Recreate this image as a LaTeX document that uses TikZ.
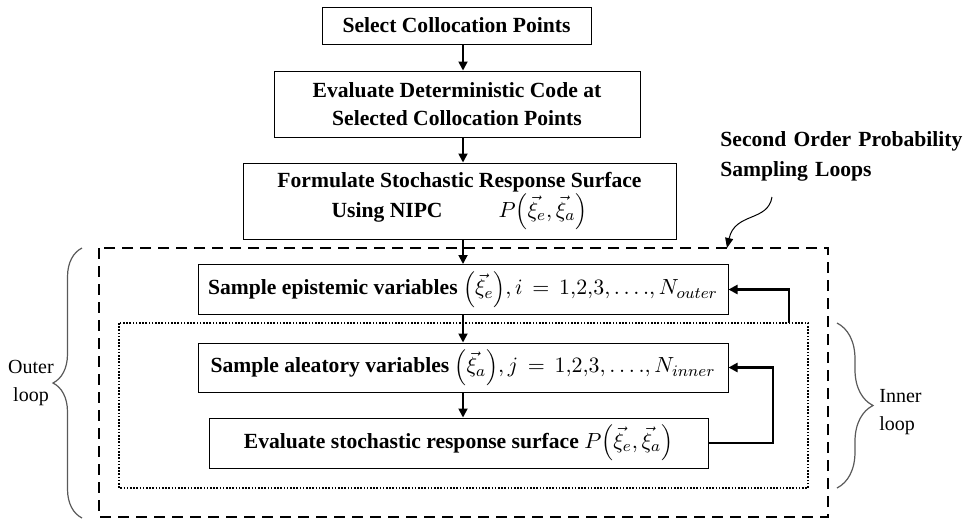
\documentclass[tikz,border=0pt]{standalone}
\usepackage{fontspec}
\setmainfont{Liberation Serif}
\usetikzlibrary{arrows.meta,decorations.pathreplacing}

\tikzset{
  box/.style={draw, line width=0.5pt, inner sep=0pt, align=center,
    font=\bfseries\fontsize{10.8}{14}\selectfont},
  flow/.style={-{Triangle[length=4.5pt,width=4.5pt]}, line width=0.9pt},
  feedback/.style={flow, line width=1.1pt},
  outerframe/.style={line width=1pt, dash pattern=on 5.5pt off 3.5pt},
  innerframe/.style={line width=1.1pt, dash pattern=on 0.8pt off 0.8pt},
  loopbrace/.style={decorate, decoration={brace, amplitude=#1}, draw=black!65, line width=0.6pt},
  looplabel/.style={inner sep=0pt, font=\fontsize{10}{14}\selectfont}
}
\newcommand{\vxi}[1]{\vec{\xi}_{#1}}

\begin{document}
\begin{tikzpicture}[x=0.5pt, y=-0.5pt]
  \useasboundingbox (0,0) rectangle (966,521);
  \coordinate (col) at (463,0);

  \node[box, minimum width=134.5pt, minimum height=18.5pt] (sel) at (456.5,25.5) {Select Collocation Points};
  \node[box, minimum width=183pt, minimum height=33pt] (evalcode) at (457,104) {Evaluate Deterministic Code at\\Selected Collocation Points};
  \node[box, minimum width=216.5pt, minimum height=38pt, font=\bfseries\fontsize{10.8}{15}\selectfont] (srs) at (459.5,201)
    {Formulate Stochastic Response Surface\\Using NIPC\hspace{28pt}$P\Bigl(\vxi{e},\vxi{a}\Bigr)$};
  \node[box, minimum width=265pt, minimum height=25pt] (epis) at (463,289.5)
    {Sample epistemic variables $\Bigl(\vxi{e}\Bigr), i\,=\,1{,}2{,}3, \ldots., N_{outer}$};
  \node[box, minimum width=265pt, minimum height=24.5pt] (alea) at (463,367.5)
    {Sample aleatory variables $\Bigl(\vxi{a}\Bigr), j\,=\,1{,}2{,}3, \ldots., N_{inner}$};
  \node[box, minimum width=249.5pt, minimum height=25pt] (evalsrs) at (458.5,443)
    {Evaluate stochastic response surface $P\Bigl(\vxi{e},\vxi{a}\Bigr)$};

  \draw[outerframe] (99,248) rectangle (828,517);
  \draw[innerframe] (119,323) rectangle (808,488);

  \draw[flow] (sel.south -| col) -- (evalcode.north -| col);
  \draw[flow] (evalcode.south -| col) -- (srs.north -| col);
  \draw[flow] (srs.south -| col) -- (epis.north -| col);
  \draw[flow] (epis.south -| col) -- (alea.north -| col);
  \draw[flow] (alea.south -| col) -- (evalsrs.north -| col);

  \coordinate (outerfb) at (789,323);
  \coordinate (innerfb) at (773,0);
  \draw[feedback] (outerfb) |- (epis.east);
  \draw[feedback] (evalsrs.east) -| (innerfb |- alea.east) -- (alea.east);

  \node[anchor=north west, align=left, text width=121pt, inner sep=0pt,
    font=\bfseries\fontsize{10.8}{15}\selectfont] (sopl) at (720,131)
    {Second\hfill Order\hfill Probability\\Sampling Loops};
  \coordinate (curlfrom) at (772,197);
  \coordinate (curlto) at (727,248);
  \draw[-{Triangle[length=5pt,width=4pt]}, line width=0.5pt] (curlfrom) .. controls (768,222) and (735,212) .. (curlto);

  \draw[loopbrace=14.5pt] (82,518) -- (82,248);
  \draw[loopbrace=18pt] (837,323) -- (837,488);
  \node[looplabel, align=center] (outerlbl) at (31,383) {Outer\\loop};
  \node[looplabel, align=left, anchor=west] (innerlbl) at (879,412) {Inner\\loop};
\end{tikzpicture}
\end{document}
